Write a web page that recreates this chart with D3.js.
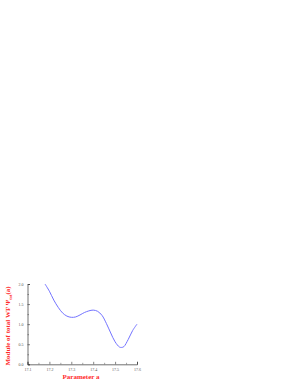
<!DOCTYPE html>
<html><head><meta charset="utf-8">
<script src="https://cdn.jsdelivr.net/npm/d3@7"></script>
<style>body{margin:0;background:#fff}svg{display:block}</style>
</head><body>
<script>
const aValues = [17.18,17.20,17.22,17.24,17.26,17.28,17.30,17.32,17.34,17.36,17.38,17.40,17.42,17.44,17.46,17.48,17.50,17.52,17.53,17.54,17.56,17.58,17.60];
const psiValues = [2.0,1.82,1.60,1.42,1.28,1.20,1.17,1.18,1.23,1.29,1.33,1.35,1.32,1.22,1.02,0.78,0.56,0.43,0.42,0.44,0.62,0.84,1.0];
const xTicks = [17.1,17.2,17.3,17.4,17.5,17.6];
const yTicks = [0.0,0.5,1.0,1.5,2.0];

const svg = d3.select("body").append("svg").attr("width",300).attr("height",388);
const x = d3.scaleLinear().domain([17.1,17.6]).range([27.5,137]);
const y = d3.scaleLinear().domain([0,2]).range([364.3,284]);

const g = svg.append("g");
// minor ticks
g.append("g").attr("transform","translate(27.5,0)")
 .call(d3.axisRight(y).tickValues(d3.range(0.25,2,0.5)).tickSize(1.5).tickFormat(""))
 .call(s=>s.select(".domain").remove()).selectAll("line").attr("stroke","#444").attr("stroke-width",0.5);
g.append("g").attr("transform","translate(0,364.3)")
 .call(d3.axisTop(x).tickValues(d3.range(17.15,17.6,0.1)).tickSize(1.5).tickFormat(""))
 .call(s=>s.select(".domain").remove()).selectAll("line").attr("stroke","#444").attr("stroke-width",0.5);

const yAx = g.append("g").attr("transform","translate(27.5,0)")
 .call(d3.axisLeft(y).tickValues(yTicks).tickSize(-2.5).tickPadding(4).tickFormat(d3.format(".1f")));
const xAx = g.append("g").attr("transform","translate(0,364.3)")
 .call(d3.axisBottom(x).tickValues(xTicks).tickSize(-2.5).tickPadding(4).tickFormat(d3.format(".1f")));
[yAx,xAx].forEach(a=>{
  a.select(".domain").attr("stroke","#333").attr("stroke-width",0.7);
  a.selectAll(".tick line").attr("stroke","#333").attr("stroke-width",0.6);
  a.selectAll("text").attr("font-size",4).attr("font-family","Liberation Serif, serif").attr("fill","#555");
});

const line = d3.line().x((d,i)=>x(aValues[i])).y(d=>y(d)).curve(d3.curveCatmullRom.alpha(0.5));
g.append("path").datum(psiValues).attr("d",line).attr("fill","none").attr("stroke","#7373ff").attr("stroke-width",1);

svg.append("text").attr("x",81).attr("y",379).attr("text-anchor","middle")
 .attr("font-family","Liberation Serif, serif").attr("font-weight","bold").attr("font-size",7).attr("fill","#ff2a2a")
 .text("Parameter a");
const yl = svg.append("text").attr("transform","translate(10,326) rotate(-90)").attr("text-anchor","middle")
 .attr("font-family","Liberation Serif, serif").attr("font-weight","bold").attr("font-size",7).attr("fill","#ff2a2a");
yl.append("tspan").text("Module of total WF  \u03A8");
yl.append("tspan").attr("font-size",4.5).attr("dy",1.5).text("tot");
yl.append("tspan").attr("dy",-1.5).text("(a)");
</script>
</body></html>
